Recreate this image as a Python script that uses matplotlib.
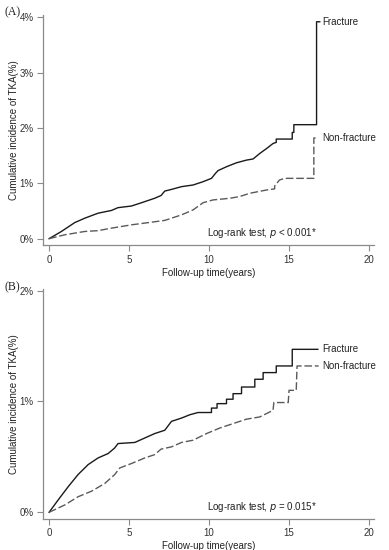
import numpy as np
import matplotlib
matplotlib.use("Agg")
import matplotlib.pyplot as plt

plt.rcParams['font.family'] = ['Liberation Sans', 'DejaVu Sans']

# Panel A (years, cumulative incidence %); repeated times mark the visible steps
a_frac_t = [0, 0.77, 1.6, 2.23, 3.06, 3.9, 4.3, 5.15, 5.78, 6.6, 7.0, 7.23, 7.65, 8.28,
            9.0, 9.63, 10.15, 10.4, 10.56, 11.09, 11.7, 12.34, 12.75, 13.17, 13.6,
            14.0, 14.2, 14.2, 15.2, 15.2, 15.3, 15.3, 16.72, 16.72, 16.92]
a_frac_y = [0, 0.13, 0.29, 0.37, 0.46, 0.51, 0.56, 0.59, 0.65, 0.73, 0.78, 0.86, 0.89, 0.94,
            0.97, 1.03, 1.09, 1.18, 1.23, 1.30, 1.37, 1.42, 1.44, 1.54, 1.63,
            1.72, 1.74, 1.80, 1.80, 1.92, 1.92, 2.06, 2.06, 3.92, 3.92]
a_non_t = [0, 0.98, 2.23, 3.06, 3.9, 5.15, 6.2, 7.23, 7.65, 8.28, 9.0, 9.63, 10.25,
           11.3, 11.9, 12.54, 13.6, 14.1, 14.1, 14.4, 14.73, 16.55, 16.55, 16.75]
a_non_y = [0, 0.07, 0.13, 0.145, 0.19, 0.25, 0.29, 0.33, 0.37, 0.43, 0.52, 0.65, 0.70,
           0.73, 0.76, 0.82, 0.88, 0.90, 0.95, 1.06, 1.09, 1.09, 1.82, 1.82]

# Panel B
b_frac_t = [0, 0.56, 1.19, 1.81, 2.44, 3.06, 3.69, 4.1, 4.31, 5.36, 5.98, 6.6, 7.23,
            7.65, 8.28, 8.8, 9.31, 10.15, 10.15, 10.5, 10.5, 11.09, 11.09, 11.5, 11.5,
            12.03, 12.03, 12.86, 12.86, 13.38, 13.38, 14.2, 14.2, 15.2, 15.2, 16.8]
b_frac_y = [0, 0.11, 0.23, 0.34, 0.43, 0.49, 0.53, 0.58, 0.62, 0.63, 0.67, 0.71, 0.74,
            0.82, 0.85, 0.88, 0.90, 0.90, 0.94, 0.94, 0.98, 0.98, 1.02, 1.02, 1.07,
            1.07, 1.13, 1.13, 1.20, 1.20, 1.26, 1.26, 1.32, 1.32, 1.47, 1.47]
b_non_t = [0, 0.98, 1.81, 2.65, 3.48, 4.1, 4.42, 5.15, 5.98, 6.6, 7.0, 7.65, 8.28,
           9.0, 9.84, 10.67, 11.5, 12.34, 13.17, 14.0, 14.05, 14.95, 15.0, 15.45,
           15.5, 16.85]
b_non_y = [0, 0.066, 0.14, 0.19, 0.26, 0.34, 0.40, 0.44, 0.49, 0.52, 0.57, 0.59, 0.63,
           0.65, 0.71, 0.76, 0.80, 0.84, 0.86, 0.92, 0.99, 0.99, 1.10, 1.10,
           1.32, 1.32]

panels = [
    dict(tag="(A)", ft=a_frac_t, fy=a_frac_y, nt=a_non_t, ny=a_non_y,
         yticks=[0, 1, 2, 3, 4], ylim=(-0.115, 4.04), p="< 0.001*",
         box=[0.111, 0.5545, 0.85, 0.418], tag_y=0.978),
    dict(tag="(B)", ft=b_frac_t, fy=b_frac_y, nt=b_non_t, ny=b_non_y,
         yticks=[0, 1, 2], ylim=(-0.058, 2.014), p="= 0.015*",
         box=[0.111, 0.0569, 0.85, 0.4176], tag_y=0.477),
]

fig = plt.figure(figsize=(3.89, 5.5), dpi=100)

for pn in panels:
    ax = fig.add_axes(pn["box"])
    ax.plot(pn["ft"], pn["fy"], color="#1a1a1a", lw=1.0)
    ax.plot(pn["nt"], pn["ny"], color="#5a5a5a", lw=1.0, dashes=(5.5, 2))
    ax.text(17.05, pn["fy"][-1], "Fracture", fontsize=7, va="center", ha="left",
            color="#222222")
    ax.text(17.05, pn["ny"][-1], "Non-fracture", fontsize=7, va="center", ha="left",
            color="#222222")
    ax.text(13.3, pn["ylim"][0] + 0.02 * (pn["ylim"][1] - pn["ylim"][0]),
            "Log-rank test, $\\it{p}$ " + pn["p"], fontsize=7, ha="center",
            va="bottom", color="#222222")

    ax.set_xlim(-0.37, 20.3)
    ax.set_ylim(*pn["ylim"])
    ax.set_xticks([0, 5, 10, 15, 20])
    ax.set_yticks(pn["yticks"])
    ax.set_yticklabels([f"{v}%" for v in pn["yticks"]])
    for s in ["top", "right"]:
        ax.spines[s].set_visible(False)
    for s in ["left", "bottom"]:
        ax.spines[s].set_color("#8a8a8a")
        ax.spines[s].set_linewidth(0.9)
    ax.tick_params(direction="out", length=4, width=0.8, color="#8a8a8a",
                   labelsize=7, labelcolor="#333333", pad=3)
    ax.set_xlabel("Follow-up time(years)", fontsize=7, color="#222222", labelpad=2)
    ax.set_ylabel("Cumulative incidence of TKA(%)", fontsize=7, color="#222222")
    ax.yaxis.set_label_coords(-0.072, 0.5)
    fig.text(0.012, pn["tag_y"], pn["tag"], fontsize=8.5,
             family="Liberation Serif", va="center", ha="left", color="#222222")

fig.savefig("out.png", dpi=100)
